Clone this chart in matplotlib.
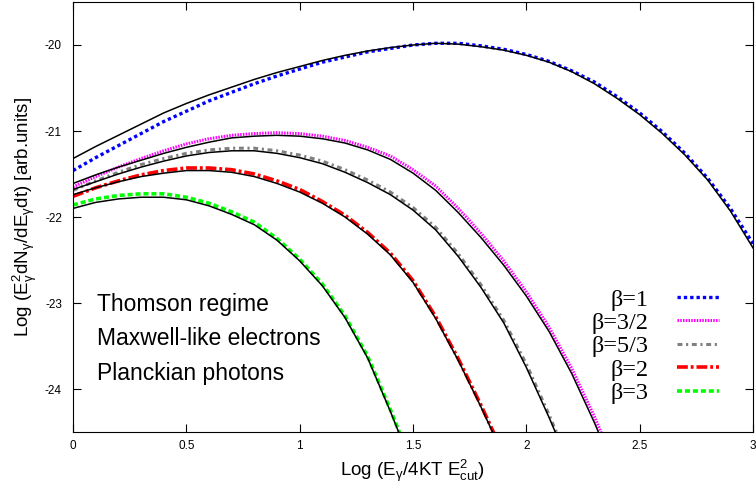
"""Thomson regime spectra for Maxwell-like electrons on Planckian photons."""

import matplotlib.pyplot as plt
from matplotlib.ticker import FormatStrFormatter, MultipleLocator

plt.rcParams["font.family"] = ["Liberation Sans", "DejaVu Sans"]
plt.rcParams["mathtext.fontset"] = "custom"
plt.rcParams["mathtext.rm"] = "Liberation Sans"
plt.rcParams["mathtext.it"] = "Liberation Sans:italic"
plt.rcParams["mathtext.bf"] = "Liberation Sans:bold"
plt.rcParams["axes.unicode_minus"] = False

# sample positions, Log(E_gamma / 4KT E_cut^2)
X_GRID = [0.0, 0.1, 0.2, 0.3, 0.4, 0.5, 0.6, 0.7, 0.8, 0.9,
          1.0, 1.1, 1.2, 1.3, 1.4, 1.5, 1.6, 1.7, 1.8, 1.9,
          2.0, 2.1, 2.2, 2.3, 2.4, 2.5, 2.6, 2.7, 2.8, 2.9, 3.0]

LABELS = ["β=1", "β=3/2", "β=5/3", "β=2", "β=3"]

# coloured curves
B1 = [-21.46, -21.31, -21.17, -21.03, -20.89, -20.77, -20.65, -20.55, -20.45, -20.36,
      -20.28, -20.20, -20.14, -20.08, -20.04, -20.00, -19.98, -19.98, -20.01, -20.05,
      -20.11, -20.19, -20.30, -20.43, -20.60, -20.79, -21.01, -21.26, -21.55, -21.90, -22.31]
B32 = [-21.65, -21.53, -21.42, -21.32, -21.23, -21.15, -21.09, -21.05, -21.03, -21.02,
       -21.03, -21.06, -21.11, -21.19, -21.29, -21.45, -21.64, -21.90, -22.19, -22.51,
       -22.87, -23.28, -23.76, -24.32, -24.95]
B53 = [-21.69, -21.58, -21.48, -21.39, -21.32, -21.26, -21.22, -21.20, -21.20, -21.23,
       -21.28, -21.35, -21.45, -21.57, -21.71, -21.89, -22.12, -22.43, -22.79, -23.20,
       -23.71, -24.30, -24.92]
B2 = [-21.76, -21.66, -21.58, -21.51, -21.46, -21.43, -21.43, -21.45, -21.50, -21.58,
      -21.68, -21.82, -21.98, -22.18, -22.42, -22.74, -23.16, -23.65, -24.19, -24.76]
B3 = [-21.86, -21.79, -21.75, -21.73, -21.73, -21.77, -21.84, -21.94, -22.06, -22.25,
      -22.49, -22.78, -23.15, -23.62, -24.24, -24.90]

# black solid curves
K1 = [-21.32, -21.18, -21.05, -20.92, -20.79, -20.68, -20.58, -20.49, -20.40, -20.32,
      -20.25, -20.18, -20.12, -20.07, -20.03, -20.00, -19.98, -19.99, -20.02, -20.06,
      -20.12, -20.20, -20.31, -20.45, -20.62, -20.81, -21.03, -21.28, -21.57, -21.93, -22.36]
K32 = [-21.61, -21.51, -21.42, -21.34, -21.26, -21.19, -21.13, -21.08, -21.06, -21.05,
       -21.06, -21.09, -21.14, -21.22, -21.33, -21.49, -21.69, -21.95, -22.24, -22.56,
       -22.92, -23.33, -23.82, -24.39, -25.02]
K53 = [-21.68, -21.59, -21.50, -21.42, -21.35, -21.29, -21.25, -21.23, -21.23, -21.26,
       -21.31, -21.38, -21.48, -21.60, -21.74, -21.92, -22.15, -22.46, -22.82, -23.23,
       -23.75, -24.33, -24.95]
K2 = [-21.74, -21.66, -21.59, -21.53, -21.49, -21.46, -21.46, -21.48, -21.53, -21.61,
      -21.71, -21.84, -22.00, -22.20, -22.44, -22.76, -23.18, -23.67, -24.21, -24.78]
K3 = [-21.90, -21.83, -21.79, -21.77, -21.77, -21.80, -21.87, -21.97, -22.09, -22.27,
      -22.51, -22.80, -23.17, -23.64, -24.26, -24.92]

COLORED = [B1, B32, B53, B2, B3]
BLACK = [K1, K32, K53, K2, K3]

STYLES = [
    {"color": "#0000ff", "lw": 2.4, "ls": (0, (1.0, 0.9))},
    {"color": "#ff00ff", "lw": 2.2, "ls": (0, (0.5, 0.4))},
    {"color": "#808080", "lw": 2.2, "ls": (0, (1.6, 1.2, 0.7, 1.2))},
    {"color": "#ff0000", "lw": 2.6, "ls": (0, (3.0, 0.8, 0.8, 0.8))},
    {"color": "#00ff00", "lw": 2.6, "ls": (0, (1.4, 0.8))},
]


def main() -> None:
    fig = plt.figure(figsize=(7.56, 4.87), dpi=100)
    ax = fig.add_axes([0.0966, 0.1129, 0.8995, 0.883])

    handles = []
    for y, label, st in zip(COLORED, LABELS, STYLES):
        (ln,) = ax.plot(X_GRID[:len(y)], y, color=st["color"], lw=st["lw"],
                        ls=st["ls"], label=label, zorder=2)
        handles.append(ln)
    for y in BLACK:
        ax.plot(X_GRID[:len(y)], y, color="black", lw=1.1, zorder=3,
                solid_joinstyle="round")

    ax.set_xlim(0, 3)
    ax.set_ylim(-24.5, -19.5)
    ax.xaxis.set_major_locator(MultipleLocator(0.5))
    ax.xaxis.set_major_formatter(FormatStrFormatter("%g"))
    ax.yaxis.set_major_locator(MultipleLocator(1))
    ax.yaxis.set_major_formatter(FormatStrFormatter("%g"))
    ax.tick_params(direction="in", top=True, right=True, length=6, width=0.8,
                   labelsize=8.5)
    ax.tick_params(axis="x", pad=6)
    ax.tick_params(axis="y", pad=8)

    ax.set_xlabel(r"Log (E$_{\mathrm{γ}}$/4KT E$^{2}_{\mathrm{cut}}$)", fontsize=13.5)
    ax.set_ylabel(r"Log (E$^{2}_{\mathrm{γ}}$dN$_{\mathrm{γ}}$/dE$_{\mathrm{γ}}$dt) [arb.units]",
                  fontsize=13.5)

    for txt, yy in zip(["Thomson regime", "Maxwell-like electrons", "Planckian photons"],
                       [0.2814, 0.2023, 0.1209]):
        ax.text(0.035, yy, txt, transform=ax.transAxes, fontsize=16.5, va="baseline")

    ax.legend(handles=handles, loc="center right", bbox_to_anchor=(0.95, 0.199),
              frameon=False, markerfirst=False,
              prop={"family": "Liberation Serif", "size": 17.5},
              handlelength=1.75, handletextpad=1.15, labelspacing=0.06,
              borderpad=0, borderaxespad=0)

    fig.savefig("out.png", dpi=100)
    plt.close(fig)


if __name__ == "__main__":
    main()
